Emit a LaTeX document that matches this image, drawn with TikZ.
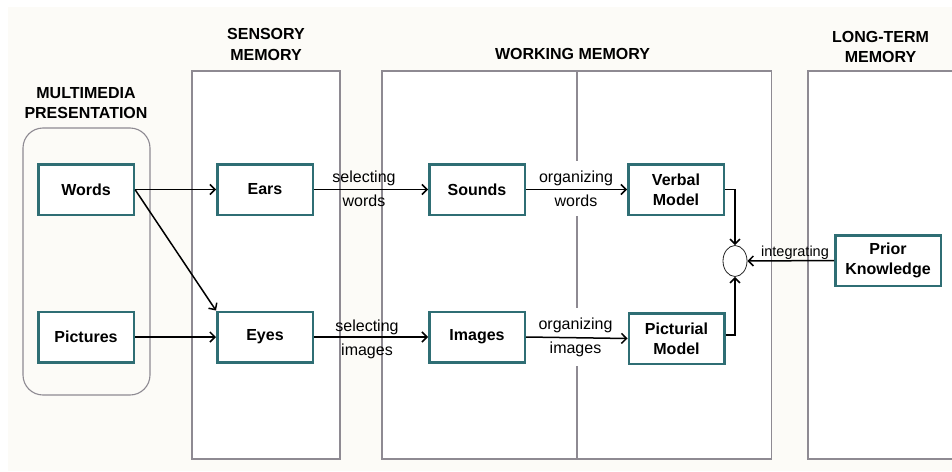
\documentclass[tikz,border=0pt]{standalone}
\usepackage{fontspec}
\setmainfont{Liberation Sans}
\usetikzlibrary{arrows.meta,shapes.geometric}
\definecolor{creambg}{HTML}{FCFBF7}
\definecolor{boxteal}{HTML}{2F6E74}
\definecolor{panelgray}{HTML}{8E8A92}
\begin{document}
\begin{tikzpicture}[x=1pt,y=-1pt,
  panelline/.style={draw=panelgray, line width=1.1pt},
  procbox/.style={draw=boxteal, line width=2.5pt, fill=white, minimum width=95.5pt, minimum height=50.5pt,
    font=\bfseries\fontsize{16}{20}\selectfont, align=center, inner sep=0pt},
  titletext/.style={font=\bfseries\fontsize{16}{20.5}\selectfont, align=center, inner sep=0pt},
  lbl/.style={font=\fontsize{16}{24}\selectfont, align=center, inner sep=0pt},
  lblfill/.style={lbl, fill=white, inner ysep=10pt, inner xsep=2pt},
  arr/.style={-{Straight Barb[length=5pt,width=10pt]}, line width=1.5pt, black}
]
\useasboundingbox (0,0) rectangle (952,471);
\fill[creambg] (8,7) rectangle (952,471);

% panels
\draw[panelline, fill=creambg, rounded corners=20pt] (23,128) rectangle (150,395);
\draw[panelline, fill=white] (192,71) rectangle (340,459);
\draw[panelline, fill=white] (382,71) rectangle (771.5,459);
\draw[panelline] (577,71) -- (577,459);
\draw[panelline, fill=white] (808,71) rectangle (960,459);

% titles
\node[titletext] (tmm) at (86,103) {MULTIMEDIA\\PRESENTATION};
\node[titletext] (tsm) at (266,44.5) {SENSORY\\MEMORY};
\node[titletext] (twm) at (572.5,54) {WORKING MEMORY};
\node[titletext] (tlm) at (880.5,47) {LONG-TERM\\MEMORY};

% boxes
\node[procbox] (words) at (86,189.5) {Words};
\node[procbox] (pictures) at (86,337) {Pictures};
\node[procbox] (ears) at (265,189.5) {Ears};
\node[procbox] (eyes) at (265,337) {Eyes};
\node[procbox] (sounds) at (477,189.5) {Sounds};
\node[procbox] (images) at (477,337) {Images};
\node[procbox] (verbal) at (676,189.5) {Verbal\\Model};
\node[procbox] (pictural) at (676.5,338.5) {Picturial\\Model};
\node[procbox, minimum width=105.5pt] (prior) at (888,260.5) {Prior\\Knowledge};
\node[draw=black!85, ellipse, line width=0.8pt, minimum width=24pt, minimum height=31pt, inner sep=0pt] (circ) at (735,261) {};

% labels
\node[lbl] (selw) at (364,189.2) {selecting\\words};
\node[lbl] (seli) at (367,339) {selecting\\images};
\node[lblfill] (orgw) at (576,188.5) {organizing\\words};
\node[lblfill] (orgi) at (575.5,337) {organizing\\images};
\node[font=\fontsize{14.5}{17}\selectfont, inner sep=0pt, anchor=base] (integ) at (795,256) {integrating};

% connectors
\draw[arr] (words.east) -- (ears.west);
\draw[arr] (words.east) -- (eyes.north west);
\draw[arr] (pictures.east) -- (eyes.west);
\draw[arr] (ears.east) -- (sounds.west);
\draw[arr] (eyes.east) -- (images.west);
\draw[arr] (sounds.east) -- (verbal.west);
\draw[arr] (images.east) -- (pictural.west);
\draw[arr] (verbal.east) -| (circ.north);
\draw[arr] ([yshift=3.5pt]pictural.east) -| (circ.south);
\draw[arr] (prior.west) -- (circ.east);
\end{tikzpicture}
\end{document}
